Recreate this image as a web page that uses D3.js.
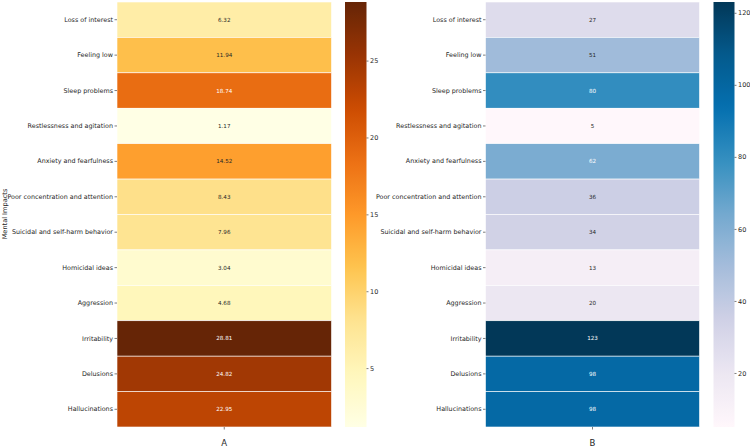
<!DOCTYPE html>
<html>
<head>
<meta charset="utf-8">
<script src="https://cdn.jsdelivr.net/npm/d3@7"></script>
<style>
  html, body { margin: 0; padding: 0; background: #ffffff; }
  svg { display: block; font-family: "DejaVu Sans", sans-serif; }
</style>
</head>
<body>
<svg id="chart" width="750" height="448"></svg>
<script>
// ---- data ----
const categories = [
  "Loss of interest", "Feeling low", "Sleep problems", "Restlessness and agitation",
  "Anxiety and fearfulness", "Poor concentration and attention", "Suicidal and self-harm behavior",
  "Homicidal ideas", "Aggression", "Irritability", "Delusions", "Hallucinations"
];
const valuesA = [6.32, 11.94, 18.74, 1.17, 14.52, 8.43, 7.96, 3.04, 4.68, 28.81, 24.82, 22.95];
const valuesB = [27, 51, 80, 5, 62, 36, 34, 13, 20, 123, 98, 98];
const ticksA = [5, 10, 15, 20, 25];
const ticksB = [20, 40, 60, 80, 100, 120];
const panelLabels = ["A", "B"];
const yAxisTitle = "Mental Impacts";

// ColorBrewer palettes (matplotlib YlOrBr / PuBu)
const ylOrBr = ["#ffffe5", "#fff7bc", "#fee391", "#fec44f", "#fe9929", "#ec7014", "#cc4c02", "#993404", "#662506"];
const puBu = ["#fff7fb", "#ece7f2", "#d0d1e6", "#a6bddb", "#74a9cf", "#3690c0", "#0570b0", "#045a8d", "#023858"];

const svg = d3.select("#chart");
const textColor = "#262626";

function luminance(c) {
  const rgb = d3.rgb(c);
  const f = v => { v /= 255; return v <= 0.03928 ? v / 12.92 : Math.pow((v + 0.055) / 1.055, 2.4); };
  return 0.2126 * f(rgb.r) + 0.7152 * f(rgb.g) + 0.0722 * f(rgb.b);
}

function panel(opts) {
  const { values, palette, ticks, label, hx0, hx1, cbx0, cbx1, top, bottom, fmt, id } = opts;
  const g = svg.append("g");
  const vmin = d3.min(values), vmax = d3.max(values);
  const t = d3.scaleLinear().domain([vmin, vmax]).range([0, 1]);
  const interp = d3.piecewise(d3.interpolateRgb, palette);
  const color = v => interp(t(v));

  const y = d3.scaleBand().domain(categories).range([top, bottom]).padding(0);
  const x = d3.scaleBand().domain([label]).range([hx0, hx1]).padding(0);

  // cells
  g.selectAll("rect.cell").data(values).join("rect")
    .attr("x", x(label))
    .attr("y", (d, i) => y(categories[i]))
    .attr("width", x.bandwidth())
    .attr("height", y.bandwidth())
    .attr("fill", d => color(d))
    .attr("stroke", "#ffffff")
    .attr("stroke-width", 0.6);

  // annotations
  g.selectAll("text.ann").data(values).join("text")
    .attr("x", x(label) + x.bandwidth() / 2)
    .attr("y", (d, i) => y(categories[i]) + y.bandwidth() / 2)
    .attr("text-anchor", "middle")
    .attr("dominant-baseline", "central")
    .attr("font-size", 5.6)
    .attr("fill", d => luminance(color(d)) > 0.408 ? textColor : "#ffffff")
    .text(d => fmt(d));

  // y axis
  const yAxis = d3.axisLeft(y).tickSize(2.5).tickPadding(1.5);
  const ya = g.append("g").attr("transform", `translate(${hx0},0)`).call(yAxis);
  ya.select(".domain").remove();
  ya.selectAll("line").attr("stroke", textColor).attr("stroke-width", 0.6);
  ya.selectAll("text").attr("font-size", 6.4).attr("fill", textColor).attr("font-family", "DejaVu Sans");

  // x axis
  const xAxis = d3.axisBottom(x).tickSize(2.5).tickPadding(10);
  const xa = g.append("g").attr("transform", `translate(0,${bottom})`).call(xAxis);
  xa.select(".domain").remove();
  xa.selectAll("line").attr("stroke", textColor).attr("stroke-width", 0.6);
  xa.selectAll("text").attr("font-size", 8.5).attr("fill", textColor).attr("font-family", "DejaVu Sans");

  // colorbar
  const grad = svg.append("defs").append("linearGradient")
    .attr("id", id).attr("x1", 0).attr("y1", 1).attr("x2", 0).attr("y2", 0);
  d3.range(0, 1.0001, 0.02).forEach(s => {
    grad.append("stop").attr("offset", s).attr("stop-color", interp(s));
  });
  g.append("rect")
    .attr("x", cbx0).attr("y", top)
    .attr("width", cbx1 - cbx0).attr("height", bottom - top)
    .attr("fill", `url(#${id})`);
  const cy = d3.scaleLinear().domain([vmin, vmax]).range([bottom, top]);
  const cAxis = d3.axisRight(cy).tickValues(ticks).tickSize(2).tickPadding(1.5).tickFormat(d3.format("d"));
  const ca = g.append("g").attr("transform", `translate(${cbx1},0)`).call(cAxis);
  ca.select(".domain").remove();
  ca.selectAll("line").attr("stroke", textColor).attr("stroke-width", 0.6);
  ca.selectAll("text").attr("font-size", 6.5).attr("fill", textColor).attr("font-family", "DejaVu Sans");
}

panel({ values: valuesA, palette: ylOrBr, ticks: ticksA, label: panelLabels[0],
  hx0: 117, hx1: 331.5, cbx0: 345, cbx1: 366.5, top: 2, bottom: 427,
  fmt: d3.format(".2f"), id: "gradA" });
panel({ values: valuesB, palette: puBu, ticks: ticksB, label: panelLabels[1],
  hx0: 485.5, hx1: 699.5, cbx0: 713.5, cbx1: 734.5, top: 2, bottom: 427,
  fmt: d3.format("d"), id: "gradB" });

// y title
svg.append("text")
  .attr("transform", "translate(7,214) rotate(-90)")
  .attr("text-anchor", "middle")
  .attr("font-size", 6.6)
  .attr("fill", textColor)
  .text(yAxisTitle);
</script>
</body>
</html>
